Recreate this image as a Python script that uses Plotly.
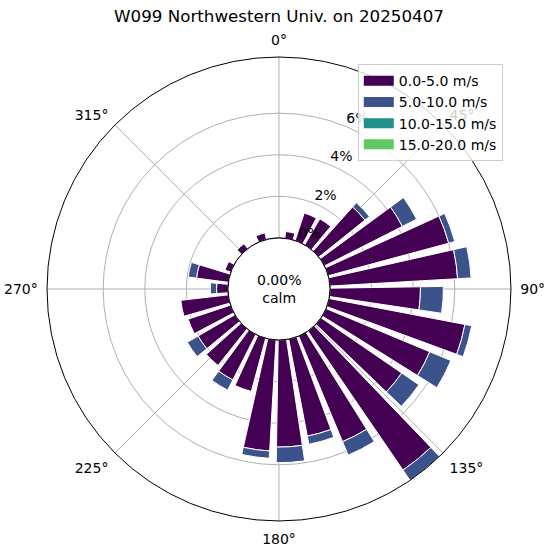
import plotly.graph_objects as go

# ---------------- data ----------------
chart_title = "W099 Northwestern Univ. on 20250407"
calm_label = "0.00%<br>calm"

# direction sector centres (degrees, clockwise from north)
sector_dirs = [11.3, 23.1, 34.9, 46.6, 58.4, 70.2, 82.0, 93.8, 105.5, 117.3,
               129.1, 140.9, 152.7, 164.4, 176.2, 188.0, 199.8, 211.6, 223.3, 235.1,
               246.9, 258.7, 270.5, 282.2, 294.0, 305.8, 317.6, 329.4, 341.2]

# frequency (%) per speed bin, per sector
freq_0_5 = [0.33, 1.40, 1.45, 2.85, 4.20, 6.00, 6.15, 4.35, 6.65, 5.40,
            4.70, 8.10, 5.50, 4.75, 5.15, 5.35, 2.65, 2.45, 2.25, 2.05,
            2.15, 2.30, 0.55, 1.55, 0.30, 0.00, 0.30, 0.00, 0.33]
freq_5_10 = [0.00, 0.00, 0.00, 0.27, 0.77, 0.30, 0.65, 1.10, 0.33, 1.10,
             1.00, 0.60, 0.70, 0.40, 0.75, 0.35, 0.00, 0.55, 0.00, 0.60,
             0.00, 0.00, 0.30, 0.40, 0.00, 0.00, 0.00, 0.00, 0.00]
freq_10_15 = [0.0, 0.0, 0.0, 0.0, 0.0, 0.0, 0.0, 0.0, 0.0, 0.0,
              0.0, 0.0, 0.0, 0.0, 0.0, 0.0, 0.0, 0.0, 0.0, 0.0,
              0.0, 0.0, 0.0, 0.0, 0.0, 0.0, 0.0, 0.0, 0.0]
freq_15_20 = [0.0, 0.0, 0.0, 0.0, 0.0, 0.0, 0.0, 0.0, 0.0, 0.0,
              0.0, 0.0, 0.0, 0.0, 0.0, 0.0, 0.0, 0.0, 0.0, 0.0,
              0.0, 0.0, 0.0, 0.0, 0.0, 0.0, 0.0, 0.0, 0.0]

speed_bin_labels = ["0.0-5.0 m/s", "5.0-10.0 m/s", "10.0-15.0 m/s", "15.0-20.0 m/s"]
bin_colors = ["#440154", "#3b528b", "#21918c", "#5ec962"]

radial_ticks = [0, 2, 4, 6]
radial_tick_labels = ["0%", "2%", "4%", "6%"]
radial_max = 8.7
radial_label_dir = 22.5

angle_ticks = [0, 45, 90, 135, 180, 225, 270, 315]
angle_tick_labels = ["0°", "45°", "90°", "135°", "180°", "225°", "270°", "315°"]

# ---------------- figure ----------------
FONT = "DejaVu Sans"
dom_x = [0.085, 0.924]
dom_y = [0.0663, 0.8979]
bar_width = 9.4

fig = go.Figure()

series = [freq_0_5, freq_5_10, freq_10_15, freq_15_20]
for vals, lab, col in zip(series, speed_bin_labels, bin_colors):
    fig.add_trace(go.Barpolar(
        r=vals, theta=sector_dirs, width=bar_width,
        marker=dict(color=col, line=dict(color="white", width=1)),
        name=lab, legendgroup=lab, showlegend=False, hoverinfo="skip",
    ))

# legend proxies (wide flat swatches like matplotlib patches)
for lab, col in zip(speed_bin_labels, bin_colors):
    fig.add_trace(go.Scatterpolar(
        r=[None], theta=[None], mode="lines",
        line=dict(color=col, width=10),
        name=lab, legendgroup=lab, showlegend=True, hoverinfo="skip",
    ))

# inner (calm) circle boundary at r = 0
fig.add_trace(go.Scatterpolar(
    r=[0] * 361, theta=list(range(361)), mode="lines",
    line=dict(color="black", width=1), showlegend=False,
    hoverinfo="skip", cliponaxis=False,
))

# radial tick labels
fig.add_trace(go.Scatterpolar(
    r=radial_ticks, theta=[radial_label_dir] * len(radial_ticks),
    mode="text", text=radial_tick_labels, textposition="top right",
    textfont=dict(family=FONT, size=14, color="black"),
    showlegend=False, hoverinfo="skip", cliponaxis=False,
))

fig.update_layout(
    width=553, height=558,
    margin=dict(l=0, r=0, t=0, b=0),
    paper_bgcolor="white",
    font=dict(family=FONT, size=14, color="black"),
    title=dict(text=chart_title, x=(dom_x[0] + dom_x[1]) / 2, xanchor="center",
               y=1 - 16 / 558, yanchor="middle", xref="paper", yref="paper",
               font=dict(family=FONT, size=16.7, color="black")),
    polar=dict(
        domain=dict(x=dom_x, y=dom_y),
        hole=51 / 232,
        bgcolor="white",
        barmode="stack",
        angularaxis=dict(
            rotation=90, direction="clockwise",
            tickmode="array", tickvals=angle_ticks, ticktext=angle_tick_labels,
            showline=True, linecolor="black", linewidth=1,
            showgrid=True, gridcolor="#b0b0b0", gridwidth=0.8,
            ticks="outside", ticklen=6, tickcolor="rgba(0,0,0,0)",
            tickfont=dict(family=FONT, size=14, color="black"),
        ),
        radialaxis=dict(
            range=[0, radial_max], tickmode="array", tickvals=radial_ticks,
            showticklabels=False, ticks="", showline=False,
            showgrid=True, gridcolor="#b0b0b0", gridwidth=0.8,
        ),
    ),
    legend=dict(
        x=0.647, y=0.885, xanchor="left", yanchor="top",
        bordercolor="#cccccc", borderwidth=1, bgcolor="rgba(255,255,255,0.8)",
        font=dict(family=FONT, size=14, color="black"),
        tracegroupgap=0, itemwidth=30,
    ),
    annotations=[dict(
        text=calm_label, x=(dom_x[0] + dom_x[1]) / 2, y=(dom_y[0] + dom_y[1]) / 2,
        xref="paper", yref="paper", showarrow=False, align="center",
        font=dict(family=FONT, size=14, color="black"),
    )],
)

fig.write_html("out.html")
